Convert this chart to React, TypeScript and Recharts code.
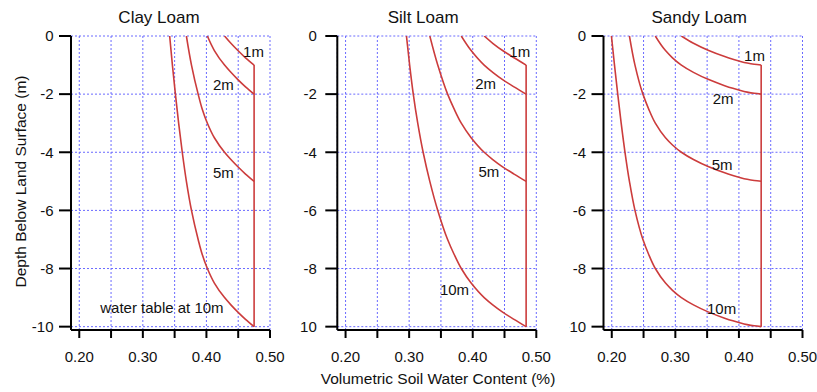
import React from "react";
import { LineChart, Line, XAxis, YAxis, CartesianGrid, ReferenceDot, Label } from "recharts";

// ---------- data ----------
const xTicks = [0.2, 0.25, 0.3, 0.35, 0.4, 0.45, 0.5];
const yTicks = [0, -2, -4, -6, -8, -10];
const panelTitles = ["Clay Loam", "Silt Loam", "Sandy Loam"];
const curveLabels = ["1m", "2m", "5m", "10m"];
const clayNote = "water table at 10m";
const xTitle = "Volumetric Soil Water Content (%)";
const yTitle = "Depth Below Land Surface (m)";

// [depth (m), volumetric water content]
const clay1m = [[0, 0.4285], [-0.25, 0.4385], [-0.5, 0.4495], [-0.75, 0.4615], [-1, 0.475]];
const clay2m = [[0, 0.4015], [-0.5, 0.4125], [-1, 0.4285], [-1.25, 0.4385], [-1.5, 0.4495], [-1.75, 0.4615], [-2, 0.475]];
const clay5m = [[0, 0.3685], [-1, 0.3765], [-2, 0.387], [-2.5, 0.3932], [-3, 0.4015], [-3.5, 0.4125], [-4, 0.4285], [-4.25, 0.4385], [-4.5, 0.4495], [-4.75, 0.4615], [-5, 0.475]];
const clay10m = [[0, 0.3422], [-1, 0.3465], [-2, 0.3512], [-3, 0.3563], [-4, 0.362], [-5, 0.3685], [-6, 0.3765], [-7, 0.387], [-7.5, 0.3932], [-8, 0.4015], [-8.5, 0.4125], [-9, 0.4285], [-9.25, 0.4385], [-9.5, 0.4495], [-9.75, 0.4615], [-10, 0.475]];
const claySat = [[-1, 0.475], [-10, 0.475]];

const silt1m = [[0, 0.418], [-0.25, 0.4315], [-0.5, 0.447], [-0.75, 0.465], [-1, 0.484]];
const silt2m = [[0, 0.382], [-0.5, 0.3975], [-1, 0.418], [-1.25, 0.4315], [-1.5, 0.447], [-1.75, 0.465], [-2, 0.484]];
const silt5m = [[0, 0.3325], [-1, 0.345], [-2, 0.3605], [-2.5, 0.3705], [-3, 0.382], [-3.5, 0.3975], [-4, 0.418], [-4.25, 0.4315], [-4.5, 0.447], [-4.75, 0.465], [-5, 0.484]];
const silt10m = [[0, 0.2958], [-1, 0.3008], [-2, 0.3065], [-3, 0.3135], [-4, 0.322], [-5, 0.3325], [-6, 0.345], [-7, 0.3605], [-7.5, 0.3705], [-8, 0.382], [-8.5, 0.3975], [-9, 0.418], [-9.25, 0.4315], [-9.5, 0.447], [-9.75, 0.465], [-10, 0.484]];
const siltSat = [[-1, 0.484], [-10, 0.484]];

const sandy1m = [[0, 0.3095], [-0.25, 0.3285], [-0.5, 0.3525], [-0.7, 0.3765], [-0.8, 0.3905], [-0.86, 0.4], [-0.93, 0.413], [-0.97, 0.424], [-1, 0.435]];
const sandy2m = [[0, 0.2685], [-0.5, 0.2845], [-0.75, 0.2955], [-1, 0.3095], [-1.25, 0.3285], [-1.5, 0.3525], [-1.7, 0.3765], [-1.8, 0.3905], [-1.86, 0.4], [-1.93, 0.413], [-1.97, 0.424], [-2, 0.435]];
const sandy5m = [[0, 0.2278], [-1, 0.2365], [-2, 0.249], [-2.5, 0.2578], [-3, 0.2685], [-3.5, 0.2845], [-3.75, 0.2955], [-4, 0.3095], [-4.25, 0.3285], [-4.5, 0.3525], [-4.7, 0.3765], [-4.8, 0.3905], [-4.86, 0.4], [-4.93, 0.413], [-4.97, 0.424], [-5, 0.435]];
const sandy10m = [[0, 0.1995], [-1, 0.2043], [-2, 0.2094], [-3, 0.2148], [-4, 0.2208], [-5, 0.2278], [-6, 0.2365], [-7, 0.249], [-7.5, 0.2578], [-8, 0.2685], [-8.5, 0.2845], [-8.75, 0.2955], [-9, 0.3095], [-9.25, 0.3285], [-9.5, 0.3525], [-9.7, 0.3765], [-9.8, 0.3905], [-9.86, 0.4], [-9.93, 0.413], [-9.97, 0.424], [-10, 0.435]];
const sandySat = [[-1, 0.435], [-10, 0.435]];

// ---------- styling / layout ----------
const FONT = "'Liberation Sans', Arial, Helvetica, sans-serif";
const RED = "#cc3c3c";
const GRID = "#6a6aff";
const TEXT = "#111";
const H = 392;
const PLOT_TOP = 36;
const AXIS_Y = 330;
const X_AXIS_H = 50;
const Y_AXIS_W = 30;
const PLOT_W = 199;

const toRows = (pts: number[][]) => pts.map(([d, t]) => ({ d, t }));

type LabelPos = { text: string; t: number; d: number };

type PanelProps = {
  svgLeft: number;
  svgWidth: number;
  axisX: number;
  yTickMargin: number;
  curves: number[][][];
  sat: number[][];
  labels: LabelPos[];
};

function Panel({ svgLeft, svgWidth, axisX, yTickMargin, curves, sat, labels }: PanelProps) {
  const marginLeft = axisX - svgLeft - Y_AXIS_W;
  const marginRight = svgLeft + svgWidth - (axisX + PLOT_W);
  const tickStyle = { fontSize: 15, fill: TEXT, fontFamily: FONT };
  return (
    <div style={{ position: "absolute", left: svgLeft, top: 0 }}>
      <LineChart
        layout="vertical"
        width={svgWidth}
        height={H}
        margin={{ top: PLOT_TOP, bottom: H - AXIS_Y - X_AXIS_H, left: marginLeft, right: marginRight }}
      >
        <CartesianGrid stroke={GRID} strokeDasharray="2 2" strokeWidth={1} />
        <XAxis
          type="number"
          dataKey="t"
          domain={[0.187, 0.5]}
          ticks={xTicks}
          allowDataOverflow
          height={X_AXIS_H}
          tickSize={8}
          tickMargin={13}
          axisLine={{ stroke: "#000", strokeWidth: 2 }}
          tickLine={{ stroke: "#000", strokeWidth: 2 }}
          tick={tickStyle}
          interval={0}
          tickFormatter={(v: number) => (Math.round(v * 100) % 10 === 0 ? v.toFixed(2) : "")}
        />
        <YAxis
          type="number"
          dataKey="d"
          domain={[-10.115, 0]}
          ticks={yTicks}
          reversed
          allowDataOverflow
          width={Y_AXIS_W}
          tickSize={12}
          tickMargin={yTickMargin}
          axisLine={{ stroke: "#000", strokeWidth: 2 }}
          tickLine={{ stroke: "#000", strokeWidth: 2 }}
          tick={tickStyle}
          interval={0}
        />
        {curves.map((c, i) => (
          <Line
            key={i}
            data={toRows(c)}
            dataKey="t"
            type="monotone"
            stroke={RED}
            strokeWidth={1.6}
            dot={false}
            activeDot={false}
            isAnimationActive={false}
          />
        ))}
        <Line
          data={toRows(sat)}
          dataKey="t"
          type="linear"
          stroke={RED}
          strokeWidth={1.6}
          dot={false}
          activeDot={false}
          isAnimationActive={false}
        />
        {labels.map((l, i) => (
          <ReferenceDot key={i} x={l.t} y={l.d} r={0} fill="none" stroke="none" ifOverflow="visible">
            <Label value={l.text} position="center" fontSize={15} fill={TEXT} fontFamily={FONT} />
          </ReferenceDot>
        ))}
      </LineChart>
    </div>
  );
}

export default function App() {
  return (
    <div style={{ position: "absolute", left: 0, top: 0, width: 817, height: H, background: "#fff", overflow: "hidden" }}>
      <Panel
        svgLeft={0}
        svgWidth={300}
        axisX={71}
        yTickMargin={5.5}
        curves={[clay1m, clay2m, clay5m, clay10m]}
        sat={claySat}
        labels={[
          { text: curveLabels[0], t: 0.474, d: -0.55 },
          { text: curveLabels[1], t: 0.4268, d: -1.69 },
          { text: curveLabels[2], t: 0.4268, d: -4.7 },
          { text: clayNote, t: 0.33, d: -9.36 },
        ]}
      />
      <Panel
        svgLeft={300}
        svgWidth={269}
        axisX={337.3}
        yTickMargin={8.5}
        curves={[silt1m, silt2m, silt5m, silt10m]}
        sat={siltSat}
        labels={[
          { text: curveLabels[0], t: 0.474, d: -0.55 },
          { text: curveLabels[1], t: 0.4202, d: -1.64 },
          { text: curveLabels[2], t: 0.4254, d: -4.67 },
          { text: curveLabels[3], t: 0.3713, d: -8.72 },
        ]}
      />
      <Panel
        svgLeft={569}
        svgWidth={248}
        axisX={603.5}
        yTickMargin={5.3}
        curves={[sandy1m, sandy2m, sandy5m, sandy10m]}
        sat={sandySat}
        labels={[
          { text: curveLabels[0], t: 0.4245, d: -0.66 },
          { text: curveLabels[1], t: 0.3753, d: -2.16 },
          { text: curveLabels[2], t: 0.3735, d: -4.43 },
          { text: curveLabels[3], t: 0.3727, d: -9.37 },
        ]}
      />
      <svg
        width={817}
        height={H}
        style={{ position: "absolute", left: 0, top: 0, pointerEvents: "none" }}
      >
        <text x={159} y={22.7} textAnchor="middle" fontSize={17} fill={TEXT} fontFamily={FONT}>{panelTitles[0]}</text>
        <text x={423.2} y={22.7} textAnchor="middle" fontSize={17} fill={TEXT} fontFamily={FONT}>{panelTitles[1]}</text>
        <text x={699.2} y={22.7} textAnchor="middle" fontSize={17} fill={TEXT} fontFamily={FONT}>{panelTitles[2]}</text>
        <text x={438} y={383.5} textAnchor="middle" fontSize={15.5} fill={TEXT} fontFamily={FONT}>{xTitle}</text>
        <text
          x={26}
          y={181.5}
          textAnchor="middle"
          fontSize={15.5}
          fill={TEXT}
          fontFamily={FONT}
          transform="rotate(-90 26 181.5)"
        >
          {yTitle}
        </text>
      </svg>
    </div>
  );
}
